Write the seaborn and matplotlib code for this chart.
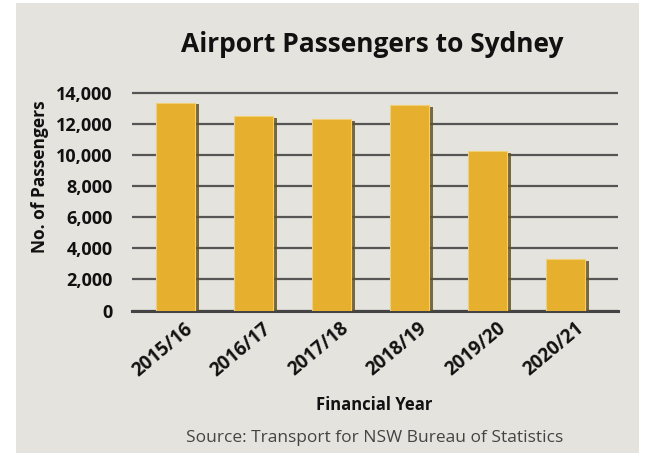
import matplotlib
matplotlib.use("Agg")
import matplotlib.pyplot as plt
import matplotlib.patheffects as pe
import matplotlib.transforms as mtransforms
from matplotlib.patches import Rectangle
from matplotlib.ticker import FuncFormatter
import seaborn as sns
import pandas as pd

# datos del grafico
years = ["2015/16", "2016/17", "2017/18", "2018/19", "2019/20", "2020/21"]
passengers = [13350, 12500, 12300, 13200, 10250, 3300]
yticks = [0, 2000, 4000, 6000, 8000, 10000, 12000, 14000]

df = pd.DataFrame({"Year": years, "Passengers": passengers})

sns.set_theme(style="white")
plt.rcParams["font.family"] = ["Open Sans", "DejaVu Sans"]

W, H = 653, 453
fig = plt.figure(figsize=(W / 100, H / 100), dpi=100, facecolor="white")

# panel gris de fondo
fig.patches.append(Rectangle((16 / W, 0), (639 - 16) / W, (H - 3) / H,
                             transform=fig.transFigure, facecolor="#e4e3dd",
                             edgecolor="none", zorder=-10))

top_px = 310.5 - 217.5 * 14250 / 14000
ax = fig.add_axes([132 / W, (H - 310.5) / H, (618 - 132) / W, (310.5 - top_px) / H])
ax.set_facecolor("none")

sns.barplot(data=df, x="Year", y="Passengers", color="#e6b02e", saturation=1,
            width=0.5, ax=ax, zorder=3)
for bar in ax.patches:
    bar.set_edgecolor("#f2cf72")
    bar.set_linewidth(0.8)
    bar.set_path_effects([pe.SimplePatchShadow(offset=(2.5, -1), shadow_rgbFace="#5e5230", alpha=0.85),
                          pe.Normal()])

ax.set_ylim(0, 14250)
ax.set_xlim(-0.56, 5.67)
ax.set_yticks(yticks)
ax.yaxis.set_major_formatter(FuncFormatter(lambda v, p: f"{int(v):,}"))
ax.grid(axis="y", color="#555555", linewidth=1.6, zorder=1)
ax.set_axisbelow(True)
for s in ["top", "right", "left"]:
    ax.spines[s].set_visible(False)
ax.spines["bottom"].set_color("#444444")
ax.spines["bottom"].set_linewidth(2.2)
ax.tick_params(axis="both", length=0)
ax.tick_params(axis="y", pad=14)
ax.set_xlabel("")
ax.set_ylabel("")

for lbl in ax.get_yticklabels():
    lbl.set_fontsize(13)
    lbl.set_fontweight("bold")
    lbl.set_color("#111111")

# desplazamiento de las etiquetas rotadas (en pixeles)
offset = mtransforms.ScaledTranslation(15 / 100, -11 / 100, fig.dpi_scale_trans)
for lbl in ax.get_xticklabels():
    lbl.set_fontsize(13.5)
    lbl.set_fontweight("bold")
    lbl.set_color("#111111")
    lbl.set_rotation(40)
    lbl.set_ha("right")
    lbl.set_va("center")
    lbl.set_rotation_mode("anchor")
    lbl.set_transform(lbl.get_transform() + offset)

fig.text(372 / W, 1 - 45 / H, "Airport Passengers to Sydney", ha="center", va="center",
         fontsize=19, fontweight="bold", color="#111111")
fig.text(40 / W, 1 - 177 / H, "No. of Passengers", ha="center", va="center",
         rotation=90, fontsize=12.5, fontweight="bold", color="#111111")
fig.text(374 / W, 1 - 405 / H, "Financial Year", ha="center", va="center",
         fontsize=12, fontweight="bold", color="#111111")
fig.text(375 / W, 1 - 438 / H, "Source: Transport for NSW Bureau of Statistics",
         ha="center", va="center", fontsize=12.5, color="#444444")

fig.savefig("out.png", dpi=100, facecolor="white")
